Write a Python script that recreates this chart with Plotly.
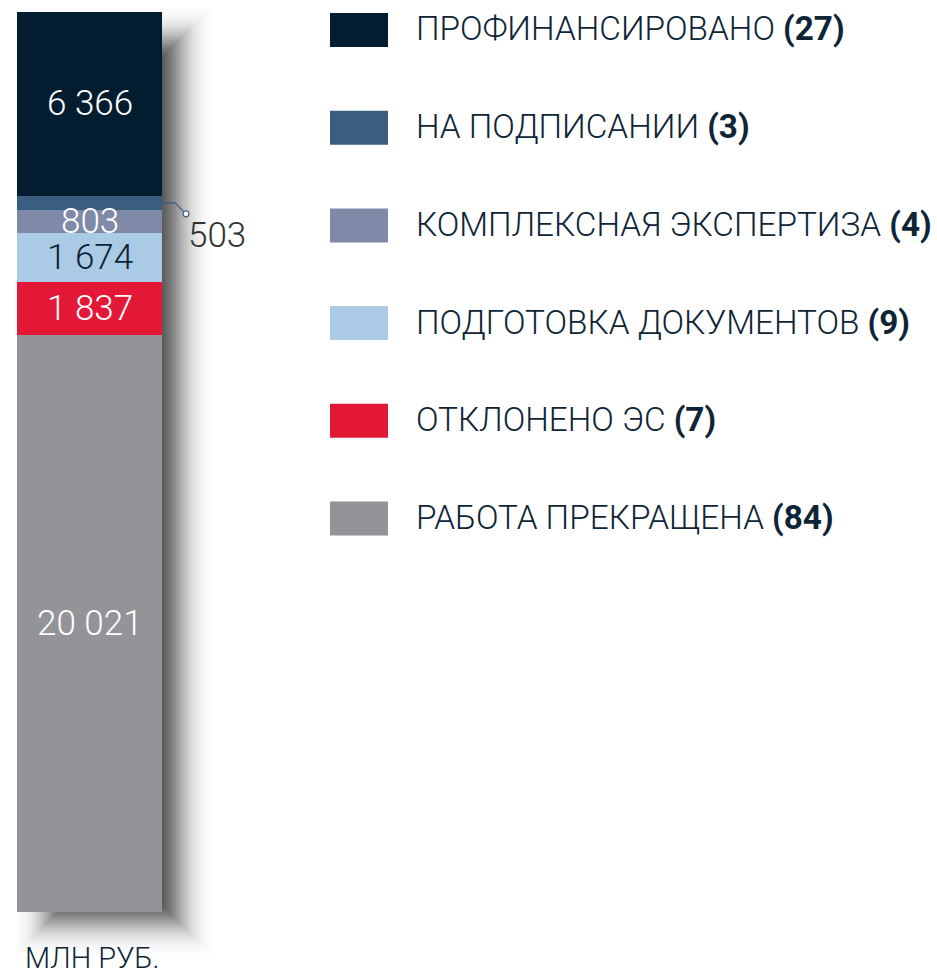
import math
import plotly.graph_objects as go

# ---- data ----
categories = ["ПРОФИНАНСИРОВАНО", "НА ПОДПИСАНИИ", "КОМПЛЕКСНАЯ ЭКСПЕРТИЗА",
              "ПОДГОТОВКА ДОКУМЕНТОВ", "ОТКЛОНЕНО ЭС", "РАБОТА ПРЕКРАЩЕНА"]
values = [6366, 503, 803, 1674, 1837, 20021]
counts = [27, 3, 4, 9, 7, 84]
value_labels = ["6 366", "503", "803", "1 674", "1 837", "20 021"]
unit_label = "МЛН РУБ."

colors = ["#021d30", "#3a5e80", "#7f8aa8", "#abcae6", "#e31837", "#939498"]
label_colors = ["#ffffff", "#333333", "#ffffff", "#0b2236", "#ffffff", "#ffffff"]
TEXT_COLOR = "#0d2536"
NUM_FONT = "Roboto"
TXT_FONT = "Roboto"

W, H = 937, 974
total = sum(values)

# pixel geometry of the bar
BAR_L, BAR_R, BAR_T, BAR_B = 17, 162, 12, 912
XPP = 1.0 / (BAR_R - BAR_L)            # data units per pixel (x)
YPP = total / (BAR_B - BAR_T)          # data units per pixel (y)
x_lo = -0.5 - BAR_L * XPP
x_hi = x_lo + W * XPP
y_top = -BAR_T * YPP
y_bot = total + (H - BAR_B) * YPP

fig = go.Figure()

for cat, v, c in zip(categories, values, colors):
    fig.add_trace(go.Bar(x=[0], y=[v], name=cat, marker=dict(color=c, line=dict(width=0)),
                         width=1, showlegend=False, hoverinfo="skip"))

# ---- soft drop shadow (gaussian-like, built from nested translucent rects) ----
shapes = []
SH_L, SH_R, SH_T, SH_B = 50, 177, 42, 920   # shadow box, px
SIGMA, DMAX, K = 17.0, 0.76, 54


def dark(d):
    return DMAX * 0.5 * math.erfc(d / (SIGMA * math.sqrt(2)))


for k in range(K, -K - 1, -1):
    a = 1 - (1 - dark(k)) / (1 - dark(k + 1))
    if a <= 0.002:
        continue
    shapes.append(dict(type="rect", xref="x", yref="y", layer="below",
                       x0=-0.5 + (SH_L - BAR_L - k) * XPP, x1=0.5 + (SH_R - BAR_R + k) * XPP,
                       y0=(SH_T - BAR_T - k) * YPP, y1=total + (SH_B - BAR_B + k) * YPP,
                       fillcolor=f"rgba(0,0,0,{a:.4f})", line=dict(width=0)))

# ---- value labels ----
annotations = []
cum = 0
for i, (v, lab, lc) in enumerate(zip(values, value_labels, label_colors)):
    mid = cum + v / 2
    if i == 1:
        x0 = 0.5
        xs = [x0, x0 + 13 * XPP, x0 + 24 * XPP]
        ys = [mid, mid, mid + 11 * YPP]
        fig.add_trace(go.Scatter(x=xs, y=ys, mode="lines", line=dict(color=colors[1], width=1.3),
                                 showlegend=False, hoverinfo="skip"))
        fig.add_trace(go.Scatter(x=[xs[-1]], y=[ys[-1]], mode="markers",
                                 marker=dict(size=6, color="white", line=dict(color=colors[1], width=1.2)),
                                 showlegend=False, hoverinfo="skip"))
        annotations.append(dict(x=xs[-1], y=ys[-1], xref="x", yref="y", text=lab, showarrow=False,
                                xanchor="left", yanchor="middle", xshift=0, yshift=-22,
                                font=dict(family=NUM_FONT, size=35, color=lc, weight=300)))
    else:
        annotations.append(dict(x=0, y=mid, xref="x", yref="y", text=lab, showarrow=False,
                                xanchor="center", yanchor="middle",
                                font=dict(family=NUM_FONT, size=35, color=lc, weight=300)))
    cum += v

# ---- legend (custom) ----
LEG_Y0, LEG_DY = 30, 97.7
for i, (cat, n, c) in enumerate(zip(categories, counts, colors)):
    cy = LEG_Y0 + i * LEG_DY
    shapes.append(dict(type="rect", xref="paper", yref="paper",
                       x0=330 / W, x1=388 / W, y0=1 - (cy + 17) / H, y1=1 - (cy - 17) / H,
                       fillcolor=c, line=dict(width=0)))
    annotations.append(dict(x=414 / W, y=1 - (cy - 1) / H, xref="paper", yref="paper",
                            text=f"{cat} <b>({n})</b>", showarrow=False,
                            xanchor="left", yanchor="middle",
                            font=dict(family=TXT_FONT, size=33.3, color=TEXT_COLOR, weight=300)))

annotations.append(dict(x=23 / W, y=1 - 958 / H, xref="paper", yref="paper", text=unit_label,
                        showarrow=False, xanchor="left", yanchor="middle",
                        font=dict(family=TXT_FONT, size=29, color=TEXT_COLOR, weight=300)))

fig.update_layout(
    width=W, height=H, margin=dict(l=0, r=0, t=0, b=0),
    paper_bgcolor="white", plot_bgcolor="rgba(0,0,0,0)",
    barmode="stack", bargap=0,
    xaxis=dict(range=[x_lo, x_hi], visible=False, fixedrange=True),
    yaxis=dict(range=[y_bot, y_top], visible=False, fixedrange=True),
    shapes=shapes, annotations=annotations,
)

fig.write_html("out.html", config={"displayModeBar": False},
               post_script="document.body.style.margin='0';document.body.style.overflow='hidden';")
